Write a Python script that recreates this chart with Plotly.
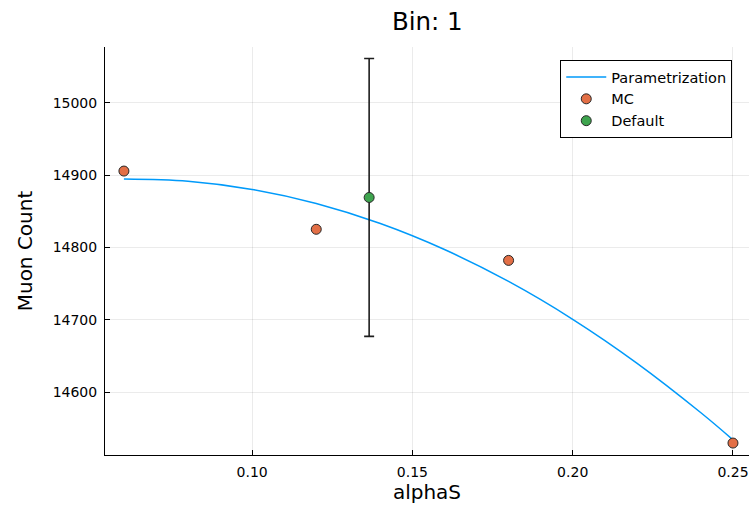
import plotly.graph_objects as go

# Data
param_x = [0.06, 0.08, 0.10, 0.12, 0.14, 0.16, 0.18, 0.20, 0.22, 0.24, 0.25]
param_y = [14894.5, 14891.4, 14880.1, 14860.6, 14832.9, 14797.0, 14752.9, 14700.6, 14640.1, 14571.4, 14534.0]

mc_x = [0.06, 0.12, 0.18, 0.25]
mc_y = [14905.5, 14825.0, 14782.0, 14529.5]

default_x = [0.1365]
default_y = [14869.0]
default_err = [192.0]

x_ticks = [0.10, 0.15, 0.20, 0.25]
x_tick_labels = ["0.10", "0.15", "0.20", "0.25"]
y_ticks = [14600, 14700, 14800, 14900, 15000]
y_tick_labels = ["14600", "14700", "14800", "14900", "15000"]

FONT = "DejaVu Sans"

fig = go.Figure()
fig.add_trace(go.Scatter(
    x=param_x, y=param_y, mode="lines", name="Parametrization",
    line=dict(color="rgb(0,154,250)", width=1.5, shape="spline"),
))
fig.add_trace(go.Scatter(
    x=mc_x, y=mc_y, mode="markers", name="MC",
    marker=dict(color="rgb(227,111,70)", size=10, line=dict(color="rgb(40,40,40)", width=1)),
))
fig.add_trace(go.Scatter(
    x=default_x, y=default_y, mode="markers", name="Default",
    marker=dict(color="rgb(62,164,78)", size=10, line=dict(color="rgb(40,40,40)", width=1)),
    error_y=dict(type="data", array=default_err, visible=True, color="rgb(30,30,30)", thickness=1.6, width=5),
))

axis_common = dict(
    showgrid=True, gridcolor="rgba(0,0,0,0.08)", gridwidth=1,
    zeroline=False, showline=True, linecolor="black", linewidth=1,
    ticks="inside", ticklen=5, tickcolor="black", mirror=False,
    tickfont=dict(family=FONT, size=14, color="black"),
)

fig.update_layout(
    width=749, height=507,
    margin=dict(l=105, r=0, t=47, b=52),
    paper_bgcolor="white", plot_bgcolor="white",
    font=dict(family=FONT, color="black"),
    title=dict(text="Bin: 1", x=0.5705, xanchor="center", y=0.957, yanchor="middle",
               font=dict(family=FONT, size=24.5, color="black")),
    xaxis=dict(axis_common, range=[0.0541, 0.255], tickvals=x_ticks, ticktext=x_tick_labels,
               ticklabelstandoff=4,
               title=dict(text="alphaS", font=dict(family=FONT, size=20, color="black"), standoff=6)),
    yaxis=dict(axis_common, range=[14513, 15077], tickvals=y_ticks, ticktext=y_tick_labels,
               ticklabelstandoff=4,
               title=dict(text="Muon Count", font=dict(family=FONT, size=20, color="black"), standoff=14)),
    legend=dict(x=0.974, y=0.968, xanchor="right", yanchor="top",
                bordercolor="black", borderwidth=1, bgcolor="white",
                font=dict(family=FONT, size=14.5, color="black"),
                tracegroupgap=0, itemwidth=40),
    showlegend=True,
)

fig.write_html("out.html")
